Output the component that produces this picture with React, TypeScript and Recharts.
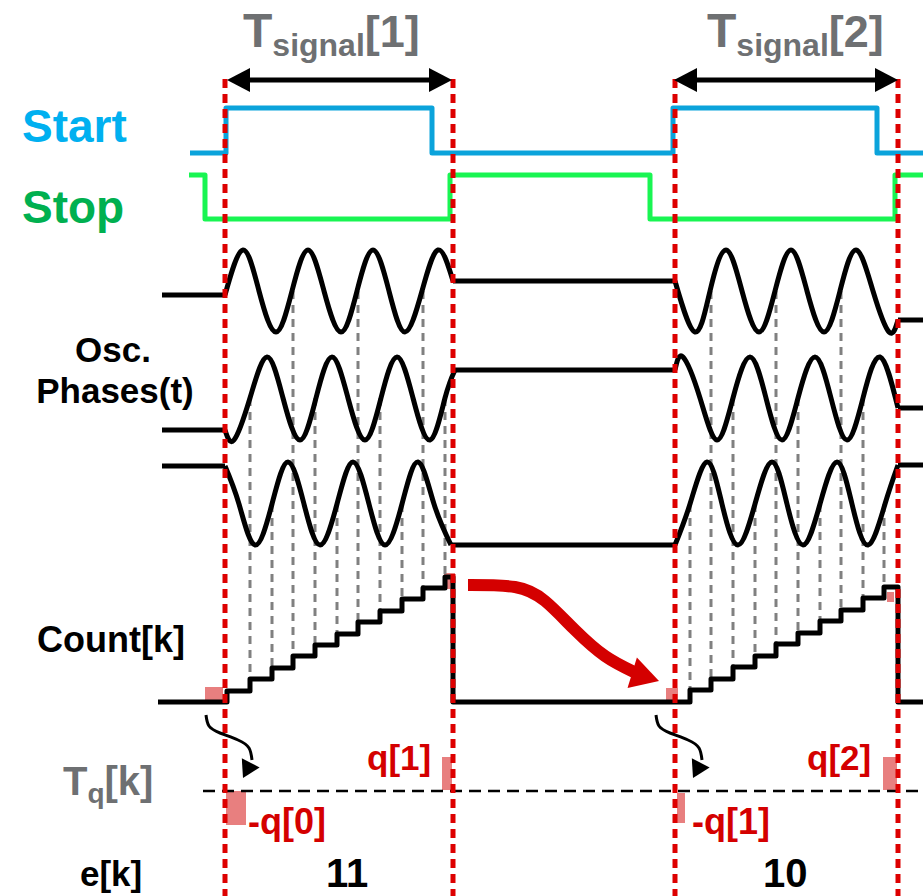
import React from "react";
import { ComposedChart, Line, Scatter, XAxis, YAxis, ReferenceArea } from "recharts";

type Pt = [number, number] | null;

// picture units: x = time, y = vertical level measured from the top
const W = 923;
const H = 896;

// Start / Stop pulse edges (x, level after edge)
const startEdges: Pt[] = [[190, 153], [226, 108], [432, 153], [673, 108], [877, 153], [923, 153]];
const stopEdges: Pt[] = [[189, 175], [205, 219], [450, 175], [650, 219], [895, 175], [923, 175]];

// oscillator phases: peaks, troughs and mid crossings
const osc1BurstA: Pt[] = [[225, 295], [243, 250], [259, 291], [276, 332], [292, 291], [308, 250], [324, 291], [341, 332], [357, 291], [373, 250], [389, 291], [405, 332], [422, 291], [438, 250], [453, 281]];
const osc1BurstB: Pt[] = [[675, 281], [695, 332], [710, 291], [726, 250], [742, 291], [759, 332], [775, 291], [791, 250], [807, 291], [824, 332], [840, 291], [856, 250], [873, 291], [889, 332], [898, 320]];
const osc1Idle: Pt[] = [[162, 295], [225, 295], null, [453, 281], [675, 281], null, [898, 320], [923, 320]];

const osc2BurstA: Pt[] = [[225, 430], [234, 440], [250, 398], [267, 357], [283, 398], [300, 440], [316, 398], [332, 357], [348, 398], [365, 440], [381, 398], [397, 357], [413, 398], [430, 440], [445, 398], [455, 370]];
const osc2BurstB: Pt[] = [[675, 370], [683, 357], [700, 398], [717, 440], [733, 398], [750, 357], [766, 398], [782, 440], [798, 398], [815, 357], [831, 398], [847, 440], [863, 398], [880, 357], [898, 408]];
const osc2Idle: Pt[] = [[162, 430], [225, 430], null, [455, 370], [675, 370], null, [898, 408], [923, 408]];

const osc3BurstA: Pt[] = [[225, 466], [239, 504], [255, 545], [272, 504], [288, 462], [304, 504], [320, 545], [337, 504], [353, 462], [369, 504], [385, 545], [402, 504], [418, 462], [434, 504], [451, 545]];
const osc3BurstB: Pt[] = [[675, 545], [690, 504], [707, 462], [722, 504], [738, 545], [755, 504], [772, 462], [787, 504], [803, 545], [820, 504], [837, 462], [852, 504], [868, 545], [885, 504], [898, 465]];
const osc3Idle: Pt[] = [[162, 466], [225, 466], null, [451, 545], [675, 545], null, [898, 465], [923, 465]];

const oscCenter = [291, 398, 504];

// counter staircase
const countBase = 702;
const stair1X = [227, 250, 272, 293, 315, 337, 358, 380, 402, 423, 445];
const stair1Level = [691, 679, 668, 656, 645, 634, 622, 611, 599, 588, 577];
const stair1Phase = [0, 2, 3, 1, 2, 3, 1, 2, 3, 1, 2]; // which phase clocks each step (0 = start edge)
const stair2X = [690, 711, 733, 755, 776, 798, 820, 841, 863, 884];
const stair2Level = [690, 679, 667, 656, 644, 633, 621, 610, 598, 587];
const stair2Phase = [3, 1, 2, 3, 1, 2, 3, 1, 2, 3];
const countEdges = { start: 158, reset1: 453, reset2: 898, end: 923 };

// measurement window markers
const markerX = [225, 453, 675, 898];
const markerTop = 79;
const spans: [number, number][] = [[227, 452], [674, 898]];
const spanY = 80;

const tqAxis: Pt[] = [[203, 791], [923, 791]];

// quantisation residues (x1, x2, y1, y2)
const residues: [number, number, number, number][] = [
  [205, 223, 687, 702],
  [444, 455, 573, 589],
  [442, 452, 757, 790],
  [226, 246, 791, 825],
  [666, 678, 688, 702],
  [887, 894, 592, 602],
  [883, 897, 757, 790],
  [677, 685, 793, 823],
];

const carryArrow: Pt[] = [[468, 585], [515, 587], [545, 601], [575, 630], [605, 656], [634, 672]];
const carryTip = [{ x: 659, y: 681, angle: 17 }];
const residueArrowA: Pt[] = [[206, 715], [209, 726], [220, 733], [238, 740], [249, 748], [252, 760]];
const residueArrowB: Pt[] = [[656, 715], [659, 726], [670, 733], [688, 740], [699, 748], [702, 760]];
const residueTips = [{ x: 243, y: 778, angle: 117 }, { x: 693, y: 778, angle: 117 }];

const rows = (pts: Pt[]) =>
  pts.map((p, i) => (p ? { x: p[0], y: p[1] } : { x: (pts[i - 1] as [number, number])[0], y: null }));

const stairRows = () => {
  const r: { x: number; y: number }[] = [{ x: countEdges.start, y: countBase }];
  stair1X.forEach((x, i) => r.push({ x, y: stair1Level[i] }));
  r.push({ x: countEdges.reset1, y: countBase });
  stair2X.forEach((x, i) => r.push({ x, y: stair2Level[i] }));
  r.push({ x: countEdges.reset2, y: countBase });
  r.push({ x: countEdges.end, y: countBase });
  return r;
};

const sampleLines = () => {
  const out: { x: number; y: number }[][] = [];
  stair1X.forEach((x, i) => {
    if (stair1Phase[i] > 0) out.push([{ x, y: oscCenter[stair1Phase[i] - 1] }, { x, y: stair1Level[i] }]);
  });
  stair2X.forEach((x, i) => {
    out.push([{ x, y: oscCenter[stair2Phase[i] - 1] }, { x, y: stair2Level[i] }]);
  });
  return out;
};

const Head = (len: number, half: number, fill: string) => (props: any) => {
  const { cx, cy, payload } = props;
  return (
    <polygon
      transform={`translate(${cx},${cy}) rotate(${payload.angle})`}
      points={`0,0 ${-len},${-half} ${-len},${half}`}
      fill={fill}
    />
  );
};

const FONT = '"Liberation Sans", Arial, Helvetica, sans-serif';
const GREY = "#6e7072";
const RED = "#d40000";

export default function App() {
  const spanHeads = spans.flatMap(([a, b]) => [
    { x: a, y: spanY, angle: 180 },
    { x: b, y: spanY, angle: 0 },
  ]);
  const oscStyle = { stroke: "#000", strokeWidth: 5, dot: false as const, activeDot: false as const, isAnimationActive: false };

  return (
    <div style={{ position: "absolute", left: 0, top: 0, width: W, height: H, background: "#fff" }}>
      <ComposedChart width={W} height={H} margin={{ top: 0, right: 0, bottom: 0, left: 0 }}>
        <XAxis type="number" dataKey="x" domain={[0, W]} hide allowDataOverflow />
        <YAxis type="number" dataKey="y" domain={[0, H]} reversed hide allowDataOverflow />

        {sampleLines().map((seg, i) => (
          <Line key={`s${i}`} data={seg} dataKey="y" stroke="#808080" strokeWidth={3} strokeDasharray="8 6" dot={false} activeDot={false} isAnimationActive={false} />
        ))}

        <Line data={rows(startEdges)} dataKey="y" type="stepAfter" stroke="#0ba3db" strokeWidth={5} strokeLinejoin="round" dot={false} activeDot={false} isAnimationActive={false} />
        <Line data={rows(stopEdges)} dataKey="y" type="stepAfter" stroke="#19f552" strokeWidth={5} strokeLinejoin="round" dot={false} activeDot={false} isAnimationActive={false} />

        <Line data={rows(osc1Idle)} dataKey="y" type="linear" {...oscStyle} />
        <Line data={rows(osc1BurstA)} dataKey="y" type="natural" {...oscStyle} />
        <Line data={rows(osc1BurstB)} dataKey="y" type="natural" {...oscStyle} />
        <Line data={rows(osc2Idle)} dataKey="y" type="linear" {...oscStyle} />
        <Line data={rows(osc2BurstA)} dataKey="y" type="natural" {...oscStyle} />
        <Line data={rows(osc2BurstB)} dataKey="y" type="natural" {...oscStyle} />
        <Line data={rows(osc3Idle)} dataKey="y" type="linear" {...oscStyle} />
        <Line data={rows(osc3BurstA)} dataKey="y" type="natural" {...oscStyle} />
        <Line data={rows(osc3BurstB)} dataKey="y" type="natural" {...oscStyle} />

        <Line data={stairRows()} dataKey="y" type="stepAfter" stroke="#000" strokeWidth={5} strokeLinejoin="round" dot={false} activeDot={false} isAnimationActive={false} />

        <Line data={rows(tqAxis)} dataKey="y" stroke="#000" strokeWidth={2.5} strokeDasharray="12 7" dot={false} activeDot={false} isAnimationActive={false} />

        {residues.map(([x1, x2, y1, y2], i) => (
          <ReferenceArea key={`r${i}`} x1={x1} x2={x2} y1={y1} y2={y2} fill="#d20000" fillOpacity={0.5} stroke="none" />
        ))}

        {markerX.map((x, i) => (
          <Line key={`m${i}`} data={[{ x, y: markerTop }, { x, y: H }]} dataKey="y" stroke="#dd0000" strokeWidth={5} strokeDasharray="9 6" dot={false} activeDot={false} isAnimationActive={false} />
        ))}

        {spans.map(([a, b], i) => (
          <Line key={`a${i}`} data={[{ x: a + 12, y: spanY }, { x: b - 12, y: spanY }]} dataKey="y" stroke="#000" strokeWidth={5} dot={false} activeDot={false} isAnimationActive={false} />
        ))}
        <Scatter data={spanHeads} shape={Head(23, 12, "#000")} isAnimationActive={false} />

        <Line data={rows(carryArrow)} dataKey="y" type="natural" stroke={RED} strokeWidth={12} dot={false} activeDot={false} isAnimationActive={false} />
        <Scatter data={carryTip} shape={Head(28, 16, RED)} isAnimationActive={false} />

        <Line data={rows(residueArrowA)} dataKey="y" type="natural" stroke="#000" strokeWidth={3} dot={false} activeDot={false} isAnimationActive={false} />
        <Line data={rows(residueArrowB)} dataKey="y" type="natural" stroke="#000" strokeWidth={3} dot={false} activeDot={false} isAnimationActive={false} />
        <Scatter data={residueTips} shape={Head(17, 10, "#000")} isAnimationActive={false} />
      </ComposedChart>

      <svg width={W} height={H} style={{ position: "absolute", left: 0, top: 0, pointerEvents: "none" }} fontFamily={FONT} fontWeight={700}>
        <text x={243} y={47} fill={GREY} fontSize={48}>
          T<tspan fontSize={32} dy={9}>signal</tspan><tspan fontSize={45} dy={-9}>[1]</tspan>
        </text>
        <text x={707} y={47} fill={GREY} fontSize={48}>
          T<tspan fontSize={32} dy={9}>signal</tspan><tspan fontSize={45} dy={-9}>[2]</tspan>
        </text>
        <text x={22} y={142} fill="#00b0f0" fontSize={46}>Start</text>
        <text x={22} y={223} fill="#00b050" fontSize={46}>Stop</text>
        <text x={113} y={362} fill="#000" fontSize={35} textAnchor="middle">Osc.</text>
        <text x={115} y={403} fill="#000" fontSize={35} textAnchor="middle">Phases(t)</text>
        <text x={37} y={652} fill="#000" fontSize={36}>Count[k]</text>
        <text x={63} y={795} fill={GREY} fontSize={40}>
          T<tspan fontSize={28} dy={8}>q</tspan><tspan fontSize={40} dy={-8}>[k]</tspan>
        </text>
        <text x={80} y={886} fill="#000" fontSize={35}>e[k]</text>
        <text x={326} y={887} fill="#000" fontSize={40}>11</text>
        <text x={763} y={887} fill="#000" fontSize={40}>10</text>
        <text x={367} y={770} fill={RED} fontSize={35}>q[1]</text>
        <text x={248} y={834} fill={RED} fontSize={36}>-q[0]</text>
        <text x={807} y={770} fill={RED} fontSize={35}>q[2]</text>
        <text x={692} y={834} fill={RED} fontSize={36}>-q[1]</text>
      </svg>
    </div>
  );
}
